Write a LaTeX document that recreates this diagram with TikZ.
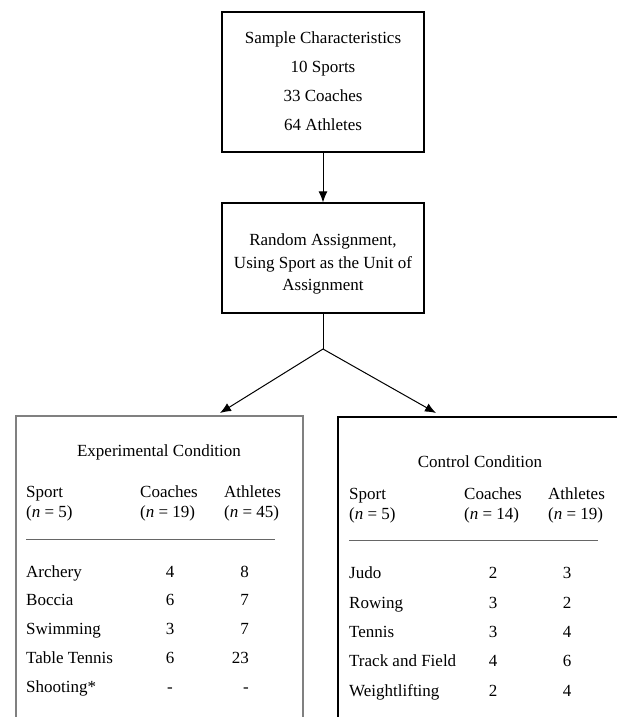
\documentclass[tikz,border=0pt]{standalone}
\usepackage{fontspec}
\setmainfont{Liberation Serif}
\usetikzlibrary{arrows.meta}
\begin{document}
\begin{tikzpicture}[x=1pt,y=-1pt,
  font=\fontsize{17}{20}\selectfont,
  box/.style={draw, line width=1.2pt, minimum width=202pt, inner sep=0pt},
  txt/.style={anchor=base, inner sep=0pt},
  txtl/.style={anchor=base west, inner sep=0pt},
  txtr/.style={anchor=base east, inner sep=0pt},
  conn/.style={line width=1pt},
  arr/.style={-{Latex[length=11pt,width=9pt]}, line width=1pt},
  expframe/.style={draw=black!50, line width=1.6pt},
  ctrlframe/.style={draw=black, line width=1.2pt},
  rule/.style={draw=black!60, line width=0.8pt}]
\useasboundingbox (0,0) rectangle (617,717);

% top box
\node[box, minimum height=140pt] (sample) at (323,82) {};
\node[txt] (s1) at (323,44) {Sample Characteristics};
\node[txt] (s2) at (323,72) {10 Sports};
\node[txt] (s3) at (323,101) {33 Coaches};
\node[txt] (s4) at (323,130) {64 Athletes};

% middle box
\node[box, minimum height=110pt] (random) at (323,258) {};
\node[txt] (r1) at (323,245) {Random Assignment,};
\node[txt] (r2) at (323,268) {Using Sport as the Unit of};
\node[txt] (r3) at (323,290) {Assignment};

% connectors
\draw[arr] (sample.south) -- (random.north);
\coordinate (split) at (323,349);
\draw[conn] (random.south) -- (split);
\coordinate (expin) at (220,413);
\coordinate (ctrlin) at (436,413);
\draw[arr] (split) -- (expin);
\draw[arr] (split) -- (ctrlin);

% experimental frame (cut off at bottom)
\draw[expframe] (16,717) -- (16,416) -- (303,416) -- (303,717);
\node[txt] (eh) at (159,456) {Experimental Condition};
\node[txtl] (es1) at (26,497) {Sport};
\node[txtl] (es2) at (26,517) {(\textit{n} = 5)};
\node[txtl] (ec1) at (140,497) {Coaches};
\node[txtl] (ec2) at (140,517) {(\textit{n} = 19)};
\node[txtl] (ea1) at (224,497) {Athletes};
\node[txtl] (ea2) at (224,517) {(\textit{n} = 45)};
\coordinate (erl) at (26,539);
\coordinate (err) at (275,539);
\draw[rule] (erl) -- (err);
\foreach \y/\s/\c/\a [count=\i] in {577/Archery/4/8, 605/Boccia/6/7, 634/Swimming/3/7, 663/Table Tennis/6/23, 692/Shooting*/-/-}{
  \node[txtl] (en\i) at (26,\y) {\s};
  \node[txt] (ec\i) at (170,\y) {\c};
  \node[txtr] (ea\i) at (249,\y) {\a};
}

% control frame (cut off at bottom and right)
\draw[ctrlframe] (338,717) -- (338,417) -- (617,417);
\node[txt] (ch) at (480,467) {Control Condition};
\node[txtl] (cs1) at (349,499) {Sport};
\node[txtl] (cs2) at (349,519) {(\textit{n} = 5)};
\node[txtl] (cc1) at (464,499) {Coaches};
\node[txtl] (cc2) at (464,519) {(\textit{n} = 14)};
\node[txtl] (ca1) at (548,499) {Athletes};
\node[txtl] (ca2) at (548,519) {(\textit{n} = 19)};
\coordinate (crl) at (349,540);
\coordinate (crr) at (598,540);
\draw[rule] (crl) -- (crr);
\foreach \y/\s/\c/\a [count=\i] in {578/Judo/2/3, 608/Rowing/3/2, 637/Tennis/3/4, 666/Track and Field/4/6, 696/Weightlifting/2/4}{
  \node[txtl] (cn\i) at (349,\y) {\s};
  \node[txt] (cc\i) at (493,\y) {\c};
  \node[txt] (ca\i) at (567,\y) {\a};
}
\end{tikzpicture}
\end{document}
